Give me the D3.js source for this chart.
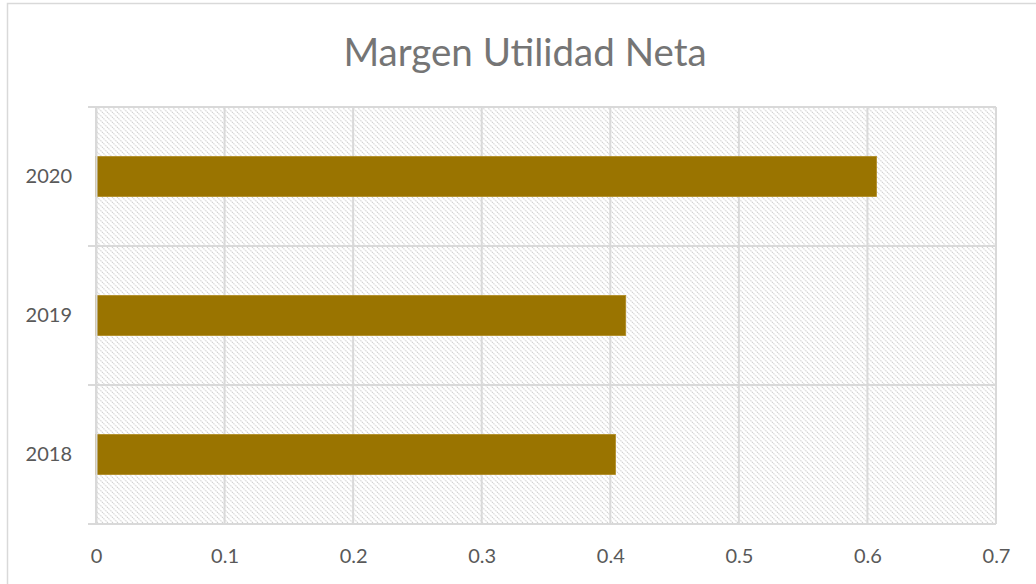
<!DOCTYPE html>
<html><head><meta charset="utf-8">
<script src="https://cdn.jsdelivr.net/npm/d3@7"></script>
<style>body{margin:0;background:#fff;} svg{display:block;}</style>
</head><body>
<svg id="c" width="1036" height="584"></svg>
<script>
const categories = ["2020", "2019", "2018"];
const values = [0.607, 0.412, 0.404];
const xTicks = [0, 0.1, 0.2, 0.3, 0.4, 0.5, 0.6, 0.7];
const title = "Margen Utilidad Neta";

const svg = d3.select("#c");
const W = 1036, H = 584;
const x = d3.scaleLinear().domain([0, 0.7]).range([96, 996]);
const y = d3.scaleBand().domain(categories).range([107, 524]).paddingInner(0.712).paddingOuter(0.356);
const yb = d3.scaleBand().domain(categories).range([107, 524]);

// outer frame
svg.append("rect").attr("x", 7.5).attr("y", 3.5).attr("width", W - 6).attr("height", H).attr("fill", "#fff").attr("stroke", "#d9d9d9").attr("stroke-width", 1.5);

// pattern
const defs = svg.append("defs");
const p = defs.append("pattern").attr("id", "hatch").attr("patternUnits", "userSpaceOnUse").attr("width", 5).attr("height", 5);
p.append("rect").attr("width", 5).attr("height", 5).attr("fill", "#fff");
p.append("path").attr("d", "M-1,-1 L6,6 M-1,4 L1,6 M4,-1 L6,1").attr("stroke", "#d0d0d0").attr("stroke-width", 1.1).attr("stroke-dasharray", "1.4,0.7");

svg.append("rect").attr("x", x(0)).attr("y", 107).attr("width", x(0.7) - x(0)).attr("height", 524 - 107).attr("fill", "url(#hatch)");

// vertical gridlines
svg.append("g").selectAll("line").data(xTicks).join("line")
  .attr("x1", d => x(d)).attr("x2", d => x(d)).attr("y1", 107).attr("y2", 524)
  .attr("stroke", "#d9d9d9").attr("stroke-width", 2);

// horizontal gridlines (band boundaries) with tick extension
const bounds = categories.map(c => yb(c)).concat([yb.range()[1]]);
svg.append("g").selectAll("line").data(bounds).join("line")
  .attr("x1", 88).attr("x2", x(0.7)).attr("y1", d => d).attr("y2", d => d)
  .attr("stroke", "#d9d9d9").attr("stroke-width", 2);

// bars
svg.append("g").selectAll("rect").data(categories).join("rect")
  .attr("x", x(0)).attr("y", d => y(d))
  .attr("width", (d, i) => x(values[i]) - x(0)).attr("height", y.bandwidth())
  .attr("fill", "#9a7400").attr("stroke", "#b08a20").attr("stroke-width", 0.8);

// x axis
const xa = svg.append("g").attr("transform", "translate(0,524)")
  .call(d3.axisBottom(x).tickValues(xTicks).tickFormat(d => d3.format("")(d)).tickSize(0).tickPadding(25));
xa.select(".domain").remove();
xa.selectAll("text").attr("font-family", "Lato, 'Open Sans', sans-serif").attr("font-size", 20).attr("fill", "#595959");

// y axis
const ya = svg.append("g").attr("transform", "translate(" + x(0) + ",0)")
  .call(d3.axisLeft(y).tickSize(0).tickPadding(24));
ya.select(".domain").attr("stroke", "#d9d9d9").attr("stroke-width", 2);
ya.selectAll("text").attr("font-family", "Lato, 'Open Sans', sans-serif").attr("font-size", 20).attr("fill", "#595959");

// title
svg.append("text").attr("x", 525).attr("y", 66).attr("text-anchor", "middle")
  .attr("font-family", "Lato, 'Open Sans', sans-serif").attr("font-size", 38.5).attr("fill", "#757575").text(title);
</script>
</body></html>
